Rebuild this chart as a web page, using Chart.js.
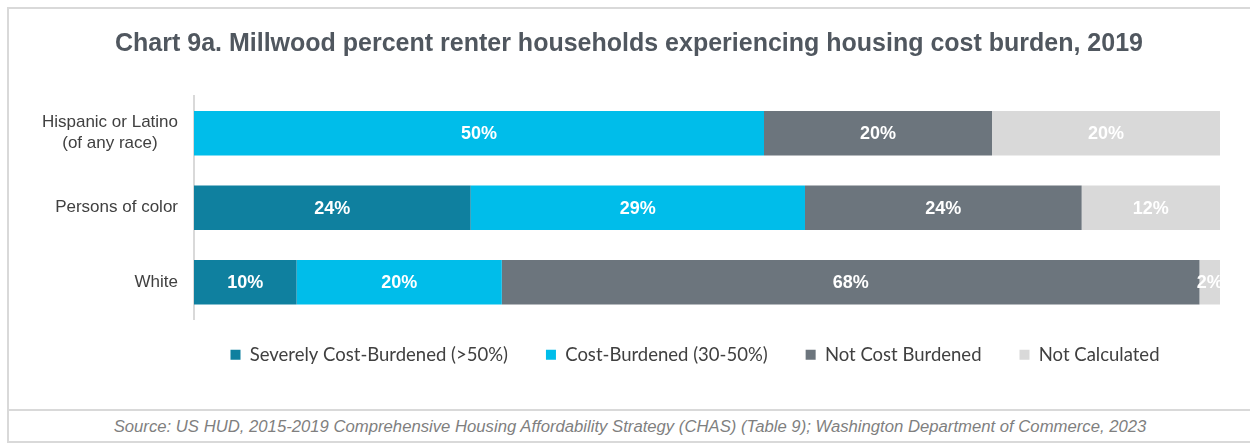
<!DOCTYPE html>
<html lang="en">
<head>
<meta charset="UTF-8">
<title>Chart 9a</title>
<style>
    body { margin: 0; background: #fff; }
    .wrap { position: relative; width: 1250px; height: 444px; overflow: hidden; }
    .frame { position: absolute; left: 7px; top: 7px; width: 1260px; height: 432px; border: 2px solid #d9d9d9; }
    .source { position: absolute; left: 7px; top: 409px; width: 1260px; height: 30px; border-top: 2px solid #d9d9d9; }
    .source p { margin: 0; position: absolute; left: 0; width: 1246px; top: 6px; text-align: center;
        font: italic 16.7px "Liberation Sans", Arial, sans-serif; color: #7f7f7f; }
    canvas { position: absolute; left: 0; top: 0; }
</style>
</head>
<body>
<div class="wrap">
    <div class="frame"></div>
    <div class="source"><p>Source: US HUD, 2015-2019 Comprehensive Housing Affordability Strategy (CHAS) (Table 9); Washington Department of Commerce, 2023</p></div>
    <canvas id="myChart" width="1250" height="444"></canvas>
</div>
<script src="https://cdn.jsdelivr.net/npm/chart.js@4.4.0/dist/chart.umd.min.js"></script>
<script>
    // dados do grafico
    const categorias = [['Hispanic or Latino', '(of any race)'], 'Persons of color', 'White'];
    const severos = [0, 24, 10];
    const comCusto = [50, 29, 20];
    const semCusto = [20, 24, 68];
    const naoCalculado = [20, 12, 2];

    const series = [
        { label: 'Severely Cost-Burdened (>50%)', values: severos, color: '#0f809f' },
        { label: 'Cost-Burdened (30-50%)', values: comCusto, color: '#00bdea' },
        { label: 'Not Cost Burdened', values: semCusto, color: '#6c757d' },
        { label: 'Not Calculated', values: naoCalculado, color: '#d9d9d9' }
    ];

    // soma de cada linha, para o empilhamento 100%
    const totais = categorias.map((c, i) => series.reduce((s, d) => s + d.values[i], 0));

    // rotulos das barras (valor original em %)
    const rotulos = {
        id: 'rotulos',
        afterDatasetsDraw(chart) {
            const ctx = chart.ctx;
            const area = chart.chartArea;
            ctx.save();
            ctx.beginPath();
            ctx.rect(area.left, area.top, area.right - area.left, area.bottom - area.top);
            ctx.clip();
            ctx.font = 'bold 18px "Liberation Sans", Arial, sans-serif';
            ctx.fillStyle = '#ffffff';
            ctx.textAlign = 'center';
            ctx.textBaseline = 'middle';
            chart.data.datasets.forEach((ds, di) => {
                chart.getDatasetMeta(di).data.forEach((bar, i) => {
                    const v = ds.raw[i];
                    if (!v) return;
                    ctx.fillText(v + '%', (bar.x + bar.base) / 2, bar.y + 1);
                });
            });
            ctx.restore();
        }
    };

    // nomes das categorias: bloco alinhado a direita, linhas centralizadas
    const categoriasEixo = {
        id: 'categoriasEixo',
        afterDraw(chart) {
            const ctx = chart.ctx;
            const y = chart.scales.y;
            ctx.save();
            ctx.font = '17px "Liberation Sans", Arial, sans-serif';
            ctx.fillStyle = '#404040';
            ctx.textAlign = 'center';
            ctx.textBaseline = 'middle';
            categorias.forEach((c, i) => {
                const linhas = Array.isArray(c) ? c : [c];
                const largura = Math.max(...linhas.map(l => ctx.measureText(l).width));
                const cx = 178 - largura / 2;
                const cy = y.getPixelForValue(i);
                const alt = 21;
                linhas.forEach((l, k) => {
                    ctx.fillText(l, cx, cy + (k - (linhas.length - 1) / 2) * alt);
                });
            });
            ctx.restore();
        }
    };

    // ajusta posicao da legenda e do titulo
    const moverBlocos = {
        id: 'moverBlocos',
        afterLayout(chart) {
            chart.legend.top -= 12;
            chart.legend.bottom -= 12;
            chart.legend.left += 81;
            chart.legend.right += 81;
            chart.titleBlock.left += 15;
            chart.titleBlock.right += 15;
        }
    };

    const ctx = document.getElementById('myChart');

    const grafico = new Chart(ctx, {
        type: 'bar',
        data: {
            labels: categorias,
            datasets: series.map(s => ({
                label: s.label,
                data: s.values.map((v, i) => v / totais[i] * 100),
                raw: s.values,
                backgroundColor: s.color,
                borderWidth: 0,
                categoryPercentage: 1,
                barPercentage: 0.595
            }))
        },
        options: {
            indexAxis: 'y',
            responsive: false,
            animation: false,
            layout: {
                padding: { left: 8, right: 30, top: 0, bottom: 58 }
            },
            scales: {
                x: {
                    stacked: true,
                    min: 0,
                    max: 100,
                    display: false
                },
                y: {
                    stacked: true,
                    grid: { display: false },
                    border: { display: true, color: '#d9d9d9', width: 2 },
                    ticks: { display: false },
                    afterFit(scale) { scale.width = 186; }
                }
            },
            plugins: {
                title: {
                    display: true,
                    text: 'Chart 9a. Millwood percent renter households experiencing housing cost burden, 2019',
                    color: '#50575f',
                    font: { family: '"Liberation Sans", Arial, sans-serif', size: 25, weight: 'bold' },
                    padding: { top: 29, bottom: 37 }
                },
                legend: {
                    position: 'bottom',
                    labels: {
                        boxWidth: 10,
                        boxHeight: 10,
                        padding: 38,
                        color: '#404040',
                        font: { family: 'Lato', size: 18.5 }
                    }
                },
                tooltip: { enabled: false }
            }
        },
        plugins: [rotulos, categoriasEixo, moverBlocos]
    });
</script>
</body>
</html>
